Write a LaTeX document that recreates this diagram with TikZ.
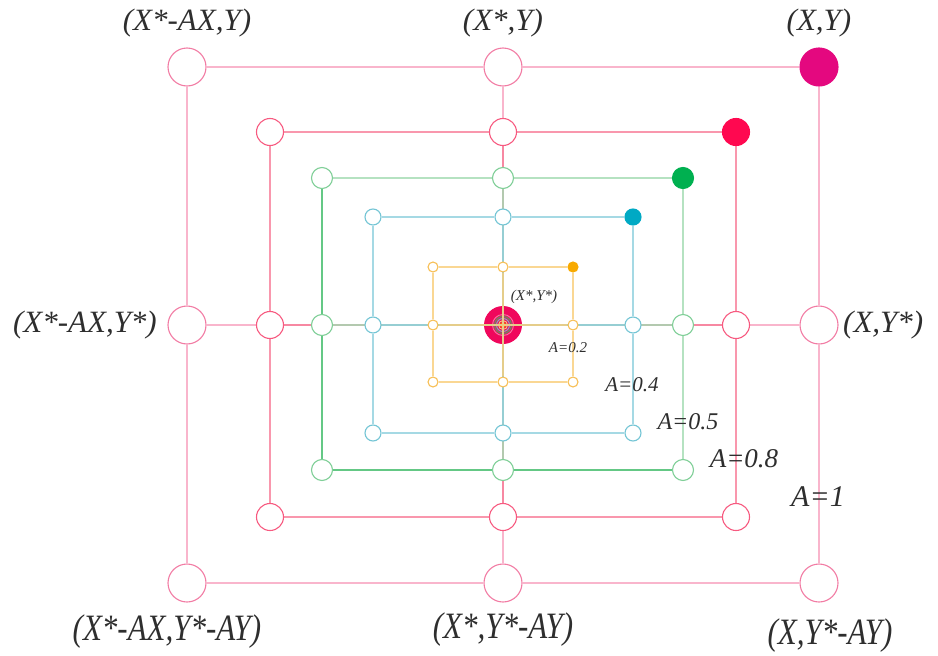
\documentclass[tikz,border=0pt]{standalone}
\usepackage{fontspec}
\setmainfont{Liberation Serif}
\pgfdeclarelayer{back}
\pgfdeclarelayer{lines}
\pgfsetlayers{back,lines,main}
\definecolor{txt}{HTML}{2E2E2E}
\definecolor{lA}{HTML}{F7A3BF}\definecolor{cA}{HTML}{F27CA4}\definecolor{fA}{HTML}{E4087F}
\definecolor{lB}{HTML}{F77D98}\definecolor{cB}{HTML}{F75A80}\definecolor{fB}{HTML}{FF0850}
\definecolor{lC}{HTML}{A2DBB2}\definecolor{dC}{HTML}{3DBA66}\definecolor{cC}{HTML}{80CF98}\definecolor{fC}{HTML}{00B050}
\definecolor{lD}{HTML}{8FD0DD}\definecolor{cD}{HTML}{74C5D5}\definecolor{fD}{HTML}{00A9C4}
\definecolor{lE}{HTML}{F9CD78}\definecolor{cE}{HTML}{F7BF55}\definecolor{fE}{HTML}{F8AA00}
\definecolor{ctr}{HTML}{F0075C}
\tikzset{
  dot/.style={circle, inner sep=0pt, line width=1.1pt, fill=white},
  ln/.style={line width=1.1pt, opacity=0.8},
  lab/.style={font=\itshape\fontsize{31}{32}\selectfont, text=txt, inner sep=0pt},
  alab/.style={font=\itshape, text=txt, inner sep=0pt}
}
% #1 name, #2 left, #3 right, #4 top, #5 bottom, #6 radius, #7 circle colour, #8 fill colour of corner
\newcommand\mkLevel[8]{%
  \node[dot, minimum size=2*#6 pt, draw=#7] (#1nw) at (#2,#4) {};
  \node[dot, minimum size=2*#6 pt, draw=#7] (#1n) at (503,#4) {};
  \node[dot, minimum size=2*#6 pt, draw=#8, fill=#8] (#1ne) at (#3,#4) {};
  \node[dot, minimum size=2*#6 pt, draw=#7] (#1w) at (#2,325) {};
  \node[dot, minimum size=2*#6 pt, draw=#7] (#1e) at (#3,325) {};
  \node[dot, minimum size=2*#6 pt, draw=#7] (#1sw) at (#2,#5) {};
  \node[dot, minimum size=2*#6 pt, draw=#7] (#1s) at (503,#5) {};
  \node[dot, minimum size=2*#6 pt, draw=#7] (#1se) at (#3,#5) {};
}
\newcommand\mkLines[3]{%
  \draw[ln, draw=#2] (#1nw) -- (#1n) -- (#1ne) -- (#1e) -- (#1se);
  \draw[ln, draw=#3] (#1se) -- (#1s) -- (#1sw) -- (#1w) -- (#1nw);
  \draw[ln, draw=#2] (#1w) -- (#1e);
  \draw[ln, draw=#2] (#1n) -- (#1s);
}
\begin{document}
\begin{tikzpicture}[x=1pt,y=-1pt]
\useasboundingbox (0,0) rectangle (938,656);
\mkLevel{a}{187}{819}{67}{583}{19}{cA}{fA}
\mkLevel{b}{270}{736}{132}{517}{13.5}{cB}{fB}
\mkLevel{c}{322}{683}{178}{470}{10.5}{cC}{fC}
\mkLevel{d}{373}{633}{217}{433}{8}{cD}{fD}
\mkLevel{e}{433}{573}{267}{382}{5}{cE}{fE}
\begin{pgfonlayer}{back}
  \node[circle, fill=ctr, minimum size=38pt, inner sep=0pt] (ctr) at (503,325) {};
  \draw[cA, line width=0.9pt] (ctr.center) circle (10.5);
  \draw[dC, line width=0.9pt] (ctr.center) circle (8.5);
  \draw[cD, line width=0.9pt] (ctr.center) circle (6.5);
  \draw[lE, line width=0.9pt] (ctr.center) circle (4.5);
  \draw[orange, line width=1pt] (ctr.center) circle (2.5);
\end{pgfonlayer}
\begin{pgfonlayer}{lines}
  \mkLines{a}{lA}{lA}
  \mkLines{b}{lB}{lB}
  \mkLines{c}{lC}{dC}
  \mkLines{d}{lD}{lD}
  \mkLines{e}{lE}{lE}
\end{pgfonlayer}
% corner labels
\node[lab] (t1) at (187,23) {(X*-AX,Y)};
\node[lab] (t2) at (503,23) {(X*,Y)};
\node[lab] (t3) at (819,23) {(X,Y)};
\node[lab, anchor=east] (m1) at (157,325) {(X*-AX,Y*)};
\node[lab, anchor=west] (m2) at (843,325) {(X,Y*)};
\node[lab, yscale=1.2] (b1) at (167,632) {(X*-AX,Y*-AY)};
\node[lab, yscale=1.2] (b2) at (503,630) {(X*,Y*-AY)};
\node[lab, yscale=1.2] (b3) at (830,636) {(X,Y*-AY)};
% A labels
\node[alab, font=\itshape\fontsize{15}{16}\selectfont] (cl) at (534,297) {(X*,Y*)};
\node[alab, font=\itshape\fontsize{15}{16}\selectfont] (a02) at (568,348) {A=0.2};
\node[alab, font=\itshape\fontsize{21}{22}\selectfont] (a04) at (632,385) {A=0.4};
\node[alab, font=\itshape\fontsize{24}{25}\selectfont] (a05) at (688,422) {A=0.5};
\node[alab, font=\itshape\fontsize{27}{28}\selectfont] (a08) at (744,459) {A=0.8};
\node[alab, font=\itshape\fontsize{30}{31}\selectfont] (a1) at (818,497) {A=1};
\end{tikzpicture}
\end{document}
